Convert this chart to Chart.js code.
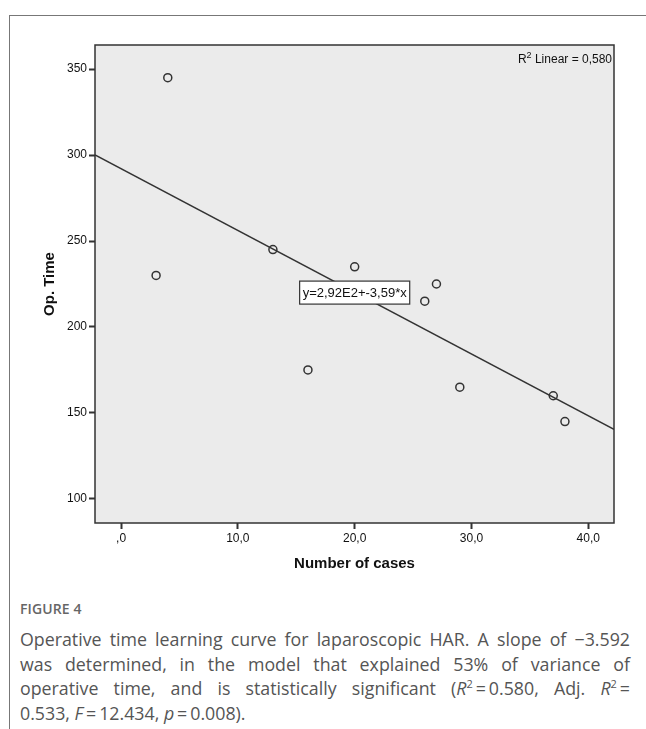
<!DOCTYPE html>
<html>
<head>
<meta charset="utf-8">
<script src="https://cdn.jsdelivr.net/npm/chart.js@4/dist/chart.umd.min.js"></script>
<style>
  html, body { margin:0; padding:0; background:#fff; width:646px; height:729px; overflow:hidden; }
  #frame { position:absolute; left:9px; top:15px; width:700px; height:800px; border-top:1px solid #777; border-left:1px solid #777; }
  #chart { position:absolute; left:0; top:0; }
  #figlabel { position:absolute; left:20px; top:599px; font-family:'Open Sans', sans-serif; font-size:14px; font-weight:600; color:#666; letter-spacing:0.1px; }
  #caption { position:absolute; left:20px; top:627px; width:610px; font-family:'Open Sans', sans-serif; font-size:17.8px; line-height:24.7px; color:#555; }
  #caption .j { text-align:justify; text-align-last:justify; white-space:nowrap; }
  #caption .l { text-align:left; }
  #caption sup { font-size:11px; line-height:0; vertical-align:7px; }
</style>
</head>
<body>
<div id="frame"></div>
<canvas id="chart" width="646" height="590"></canvas>
<div id="figlabel">FIGURE 4</div>
<div id="caption">
  <div class="j">Operative time learning curve for laparoscopic HAR. A slope of &minus;3.592</div>
  <div class="j">was determined, in the model that explained 53% of variance of</div>
  <div class="j">operative time, and is statistically significant (<i>R</i><sup>2</sup>&#8201;=&#8201;0.580, Adj. <i>R</i><sup>2</sup>&#8201;=</div>
  <div class="l">0.533, <i>F</i>&#8201;=&#8201;12.434, <i>p</i>&#8201;=&#8201;0.008).</div>
</div>
<script>
// ---- data ----
const numberOfCases = [4, 3, 13, 20, 27, 26, 16, 29, 37, 38];
const opTime        = [345, 230, 245, 235, 225, 215, 175, 165, 160, 145];
const fitIntercept = 292;
const fitSlope = -3.592;
const xTickValues = [0, 10, 20, 30, 40];
const xTickLabels = [',0', '10,0', '20,0', '30,0', '40,0'];
const yTickValues = [100, 150, 200, 250, 300, 350];
const yTickLabels = ['100', '150', '200', '250', '300', '350'];
const xRange = [-2.23, 42.2];
const yRange = [86, 364];
const equationText = 'y=2,92E2+-3,59*x';
const equationAnchor = {x: 20, y: 220};
const r2Text = '0,580';

const points = numberOfCases.map((x, i) => ({x: x, y: opTime[i]}));
const fitLine = xRange.map(x => ({x: x, y: fitIntercept + fitSlope * x}));

const FONT = "'Liberation Sans', Arial, sans-serif";
const INK = '#333';

const bgPlugin = {
  id: 'plotBg',
  beforeDraw(chart) {
    const {ctx, chartArea: a} = chart;
    ctx.save();
    ctx.fillStyle = '#ebebeb';
    ctx.fillRect(a.left, a.top, a.right - a.left, a.bottom - a.top);
    ctx.restore();
  },
  afterDraw(chart) {
    const {ctx, chartArea: a, scales} = chart;
    ctx.save();
    ctx.strokeStyle = INK;
    ctx.lineWidth = 1.5;
    ctx.strokeRect(a.left, a.top, a.right - a.left, a.bottom - a.top);
    // R2 label
    ctx.fillStyle = '#111';
    ctx.textBaseline = 'alphabetic';
    ctx.font = '12px ' + FONT;
    const rest = ' Linear = ' + r2Text;
    const wRest = ctx.measureText(rest).width;
    ctx.font = '9px ' + FONT;
    const w2 = ctx.measureText('2').width;
    ctx.font = '12px ' + FONT;
    const wR = ctx.measureText('R').width;
    const xEnd = a.right - 2;
    const base = a.top + 18;
    let x0 = xEnd - wRest - w2 - wR;
    ctx.textAlign = 'left';
    ctx.fillText('R', x0, base);
    ctx.font = '9px ' + FONT;
    ctx.fillText('2', x0 + wR, base - 5);
    ctx.font = '12px ' + FONT;
    ctx.fillText(rest, x0 + wR + w2, base);
    // equation box
    const cx = scales.x.getPixelForValue(equationAnchor.x);
    const cy = scales.y.getPixelForValue(equationAnchor.y);
    ctx.font = '13px ' + FONT;
    const tw = ctx.measureText(equationText).width;
    const bw = tw + 6, bh = 23;
    ctx.fillStyle = '#fff';
    ctx.fillRect(cx - bw / 2, cy - bh / 2, bw, bh);
    ctx.strokeStyle = INK;
    ctx.lineWidth = 1.2;
    ctx.strokeRect(cx - bw / 2, cy - bh / 2, bw, bh);
    ctx.fillStyle = '#111';
    ctx.textAlign = 'center';
    ctx.textBaseline = 'middle';
    ctx.fillText(equationText, cx, cy + 1);
    ctx.restore();
  }
};

new Chart(document.getElementById('chart'), {
  type: 'scatter',
  data: {
    datasets: [
      {
        type: 'line',
        data: fitLine,
        borderColor: INK,
        borderWidth: 1.5,
        pointRadius: 0,
        fill: false,
        tension: 0,
        order: 2
      },
      {
        data: points,
        pointStyle: 'circle',
        pointRadius: 4,
        pointBorderWidth: 1.5,
        borderColor: INK,
        backgroundColor: 'rgba(0,0,0,0)',
        order: 1
      }
    ]
  },
  options: {
    responsive: false,
    animation: false,
    events: [],
    layout: { padding: { left: 0, top: 45, right: 32, bottom: 0 } },
    plugins: { legend: { display: false }, tooltip: { enabled: false } },
    scales: {
      x: {
        type: 'linear',
        min: xRange[0], max: xRange[1],
        afterFit(scale) { scale.height = 67; },
        afterBuildTicks(scale) { scale.ticks = xTickValues.map(v => ({value: v})); },
        border: { display: false },
        grid: { drawOnChartArea: false, drawTicks: true, tickLength: 6, tickWidth: 2, tickColor: INK, color: INK },
        ticks: {
          padding: 2,
          color: '#111',
          font: { family: FONT, size: 12 },
          maxRotation: 0,
          callback: (v, i) => xTickLabels[i]
        },
        title: {
          display: true,
          text: 'Number of cases',
          color: '#111',
          font: { family: FONT, size: 15, weight: 'bold' },
          padding: { top: 17, bottom: 17 }
        }
      },
      y: {
        type: 'linear',
        min: yRange[0], max: yRange[1],
        afterFit(scale) { scale.width = 95; },
        afterBuildTicks(scale) { scale.ticks = yTickValues.map(v => ({value: v})); },
        border: { display: false },
        grid: { drawOnChartArea: false, drawTicks: true, tickLength: 6, tickWidth: 2, tickColor: INK, color: INK },
        ticks: {
          padding: 2,
          color: '#111',
          font: { family: FONT, size: 12 },
          callback: (v, i) => yTickLabels[i]
        },
        title: {
          display: true,
          text: 'Op. Time',
          color: '#111',
          font: { family: FONT, size: 15, weight: 'bold' },
          padding: { top: 41, bottom: 41 }
        }
      }
    }
  },
  plugins: [bgPlugin]
});
</script>
</body>
</html>
